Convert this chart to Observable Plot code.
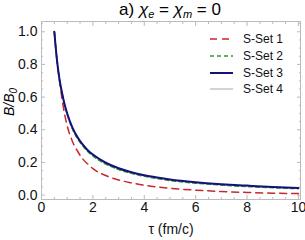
<!DOCTYPE html>
<html>
<head>
<meta charset="utf-8">
<script src="https://cdn.jsdelivr.net/npm/d3@7"></script>
<script src="https://cdn.jsdelivr.net/npm/@observablehq/plot@0.6"></script>
<style>
  body { margin: 0; background: #fff; font-family: "Liberation Sans", Arial, sans-serif; }
  #wrap { position: relative; width: 305px; height: 240px; overflow: hidden; }
  #title { position: absolute; left: 40px; width: 260px; top: 0; height: 20px; text-align: center; font-size: 17px; line-height: 20px; color: #000; }
  #title sub { font-size: 11px; vertical-align: -3px; line-height: 0; }
  #chart { position: absolute; left: 0; top: 20px; }
  #legend { position: absolute; left: 208px; top: 31px; font-size: 12px; color: #111; }
  .row { display: flex; align-items: center; height: 16.7px; }
  .row svg { margin-right: 9px; }
  #ylab { position: absolute; left: 0px; top: 100px; transform-origin: 0 0; transform: translate(1px, 16px) rotate(-90deg); font-size: 14px; line-height: 16px; font-style: italic; white-space: nowrap; }
  #ylab sub { font-size: 10px; vertical-align: -3px; line-height: 0; }
</style>
</head>
<body>
<div id="wrap">
  <div id="title">a) <i>χ</i><sub><i>e</i></sub> = <i>χ</i><sub><i>m</i></sub> = 0</div>
  <div id="chart"></div>
  <div id="ylab">B/B<sub>0</sub></div>
  <div id="legend"></div>
</div>
<script>
const tau  = [0.5, 0.6, 0.7, 0.8, 0.9, 1.0, 1.2, 1.4, 1.6, 1.8, 2.0, 2.5, 3.0, 3.5, 4.0, 4.5, 5.0, 6.0, 7.0, 8.0, 9.0, 10.0];
const set1 = [1.0, 0.826, 0.698, 0.588, 0.495, 0.425, 0.33, 0.27, 0.222, 0.19, 0.162, 0.12, 0.093, 0.075, 0.06, 0.05, 0.042, 0.03, 0.022, 0.016, 0.012, 0.009];
const set2 = [1.0, 0.83, 0.71, 0.624, 0.551, 0.494, 0.406, 0.346, 0.302, 0.267, 0.24, 0.19, 0.157, 0.133, 0.115, 0.101, 0.089, 0.073, 0.061, 0.052, 0.045, 0.039];
const set3 = [1.0, 0.83, 0.71, 0.625, 0.555, 0.5, 0.415, 0.355, 0.31, 0.275, 0.248, 0.198, 0.164, 0.14, 0.122, 0.108, 0.096, 0.079, 0.067, 0.058, 0.05, 0.044];
const set4 = [1.0, 0.83, 0.71, 0.625, 0.555, 0.5, 0.414, 0.354, 0.308, 0.273, 0.246, 0.196, 0.162, 0.138, 0.12, 0.106, 0.094, 0.077, 0.065, 0.056, 0.049, 0.043];
const seriesNames = ["S-Set 1", "S-Set 2", "S-Set 3", "S-Set 4"];
const xTicks = [0, 2, 4, 6, 8, 10];
const yTicks = [0.0, 0.2, 0.4, 0.6, 0.8, 1.0];
const xLabel = "τ (fm/c)";

const styles = [
  {stroke: "#c8282d", strokeWidth: 1.5, dash: "7,5"},
  {stroke: "#2e9a2e", strokeWidth: 1.5, dash: "4,3"},
  {stroke: "#12127a", strokeWidth: 2, dash: null},
  {stroke: "#a8a8a8", strokeWidth: 1, dash: null}
];
const allSets = [set1, set2, set3, set4];
const data = allSets.map(s => tau.map((t, i) => ({tau: t, b: s[i]})));

const xMinor = d3.range(0, 10.01, 0.5).filter(v => !xTicks.some(t => Math.abs(t - v) < 1e-9));
const yMinor = d3.range(0, 1.051, 0.05).filter(v => !yTicks.some(t => Math.abs(t - v) < 1e-9));
const blank = () => "";
const tickCol = "#bbb";

const lineMark = i => Plot.line(data[i], {x: "tau", y: "b", stroke: styles[i].stroke, strokeWidth: styles[i].strokeWidth, strokeDasharray: styles[i].dash, curve: "monotone-x"});

const chart = Plot.plot({
  width: 305, height: 220,
  marginTop: 1, marginLeft: 41, marginRight: 5, marginBottom: 41,
  style: {fontFamily: "'Liberation Sans', Arial, sans-serif", background: "transparent"},
  x: {domain: [0, 10.08]},
  y: {domain: [-0.027, 1.063]},
  marks: [
    Plot.frame({stroke: tickCol}),
    Plot.axisX(xTicks, {anchor: "bottom", tickSize: -4, stroke: tickCol, tickFormat: blank, label: null}),
    Plot.axisX(xMinor, {anchor: "bottom", tickSize: -2, stroke: tickCol, tickFormat: blank, label: null}),
    Plot.axisX(xTicks, {anchor: "top", tickSize: -4, stroke: tickCol, tickFormat: blank, label: null}),
    Plot.axisX(xMinor, {anchor: "top", tickSize: -2, stroke: tickCol, tickFormat: blank, label: null}),
    Plot.axisY(yTicks, {anchor: "left", tickSize: -4, stroke: tickCol, tickFormat: blank, label: null}),
    Plot.axisY(yMinor, {anchor: "left", tickSize: -2, stroke: tickCol, tickFormat: blank, label: null}),
    Plot.axisY(yTicks, {anchor: "right", tickSize: -4, stroke: tickCol, tickFormat: blank, label: null}),
    Plot.axisY(yMinor, {anchor: "right", tickSize: -2, stroke: tickCol, tickFormat: blank, label: null}),
    Plot.axisX(xTicks, {anchor: "bottom", tickSize: 0, tickPadding: 3, fontSize: 14, fill: "#111", tickFormat: d => String(d), label: null}),
    Plot.axisY(yTicks, {anchor: "left", tickSize: 0, tickPadding: 4, fontSize: 14, fill: "#111", tickFormat: d3.format(".1f"), label: null}),
    Plot.text([xLabel], {frameAnchor: "bottom", dy: 34, text: d => d, fontSize: 14, fill: "#111"}),
    lineMark(0), lineMark(1), lineMark(3), lineMark(2)
  ]
});
document.getElementById("chart").appendChild(chart);

const legend = d3.select("#legend");
seriesNames.forEach((name, i) => {
  const row = legend.append("div").attr("class", "row");
  const svg = row.append("svg").attr("width", 26).attr("height", 6);
  svg.append("line").attr("x1", 2).attr("x2", 25).attr("y1", 3).attr("y2", 3)
    .attr("stroke", styles[i].stroke).attr("stroke-width", styles[i].strokeWidth)
    .attr("stroke-dasharray", styles[i].dash);
  row.append("span").text(name);
});
</script>
</body>
</html>
